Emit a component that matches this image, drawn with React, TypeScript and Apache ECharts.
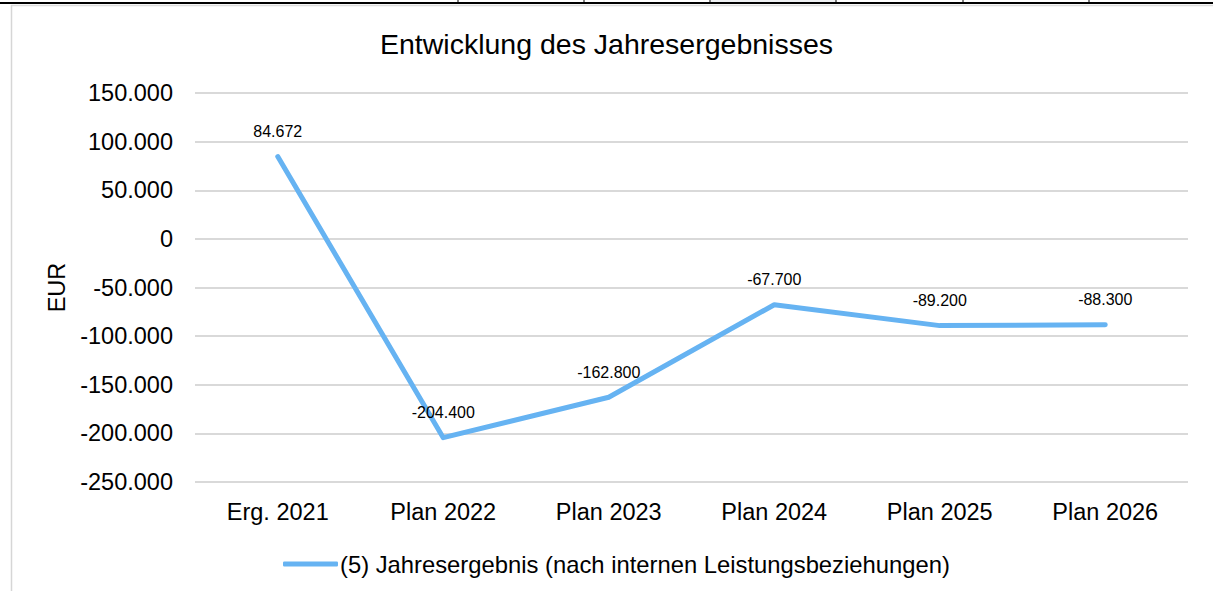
import React, { useEffect, useRef } from "react";
import * as echarts from "echarts";

const categories = ["Erg. 2021", "Plan 2022", "Plan 2023", "Plan 2024", "Plan 2025", "Plan 2026"];
const values = [84672, -204400, -162800, -67700, -89200, -88300];
const seriesName = "(5) Jahresergebnis (nach internen Leistungsbeziehungen)";
const titleText = "Entwicklung des Jahresergebnisses";
const yAxisName = "EUR";
const colLines = [458, 584, 710, 836, 963, 1089];

const FONT = "'Liberation Sans', Arial, Helvetica, sans-serif";

function fmt(v: number): string {
  const neg = v < 0;
  const s = Math.abs(Math.round(v)).toString().replace(/\B(?=(\d{3})+(?!\d))/g, ".");
  return (neg ? "-" : "") + s;
}

export default function App() {
  const ref = useRef<HTMLDivElement>(null);
  useEffect(() => {
    if (!ref.current) return;
    const chart = echarts.init(ref.current, undefined, { renderer: "svg" });
    const graphics: any[] = [
      { type: "rect", shape: { x: 711, y: 0, width: 125, height: 3 }, style: { fill: "#eef0f2" }, silent: true },
      { type: "line", shape: { x1: 0, y1: 3, x2: 1213, y2: 3 }, style: { stroke: "#000", lineWidth: 2 }, silent: true },
      ...colLines.map((x) => ({ type: "line", shape: { x1: x, y1: 0, x2: x, y2: 3 }, style: { stroke: "#000", lineWidth: 1 }, silent: true })),
      { type: "line", shape: { x1: 11, y1: 5.5, x2: 1213, y2: 5.5 }, style: { stroke: "#dcdcdc", lineWidth: 1.5 }, silent: true },
      { type: "line", shape: { x1: 11.5, y1: 5, x2: 11.5, y2: 591 }, style: { stroke: "#d6d6d6", lineWidth: 1.5 }, silent: true },
    ];
    chart.setOption({
      animation: false,
      backgroundColor: "#fff",
      textStyle: { fontFamily: FONT },
      title: {
        text: titleText,
        left: "center",
        top: 24,
        textStyle: { fontFamily: FONT, fontSize: 28.5, fontWeight: "normal", color: "#000" },
      },
      graphic: graphics,
      grid: { left: 195, right: 25, top: 93, bottom: 109, containLabel: false },
      legend: {
        top: 547,
        left: 278,
        data: [{ name: seriesName, icon: "roundRect" }],
        itemWidth: 55,
        itemHeight: 5,
        textStyle: { fontFamily: FONT, fontSize: 23.8, color: "#000", padding: [0, 0, 0, -3] },
      },
      xAxis: {
        type: "category",
        data: categories,
        boundaryGap: true,
        axisLine: { show: false },
        axisTick: { show: false },
        axisLabel: { fontFamily: FONT, fontSize: 23.5, color: "#000", margin: 18 },
      },
      yAxis: {
        type: "value",
        min: -250000,
        max: 150000,
        interval: 50000,
        name: yAxisName,
        nameLocation: "middle",
        nameGap: 123,
        nameTextStyle: { fontFamily: FONT, fontSize: 23.5, color: "#000" },
        axisLine: { show: false },
        axisTick: { show: false },
        axisLabel: { fontFamily: FONT, fontSize: 23.5, color: "#000", margin: 22, formatter: (v: number) => fmt(v) },
        splitLine: { lineStyle: { color: "#d9d9d9", width: 2 } },
      },
      series: [
        {
          name: seriesName,
          type: "line",
          data: values,
          symbol: "circle",
          symbolSize: 0,
          showSymbol: true,
          itemStyle: { color: "#66b3f2" },
          lineStyle: { color: "#66b3f2", width: 5, cap: "round", join: "round" },
          label: {
            show: true,
            position: "top",
            distance: 17,
            fontFamily: FONT,
            fontSize: 16,
            color: "#000",
            formatter: (p: any) => fmt(p.value),
          },
        },
      ],
    });
    return () => chart.dispose();
  }, []);
  return <div ref={ref} style={{ position: "fixed", left: 0, top: 0, width: 1213, height: 591 }} />;
}
